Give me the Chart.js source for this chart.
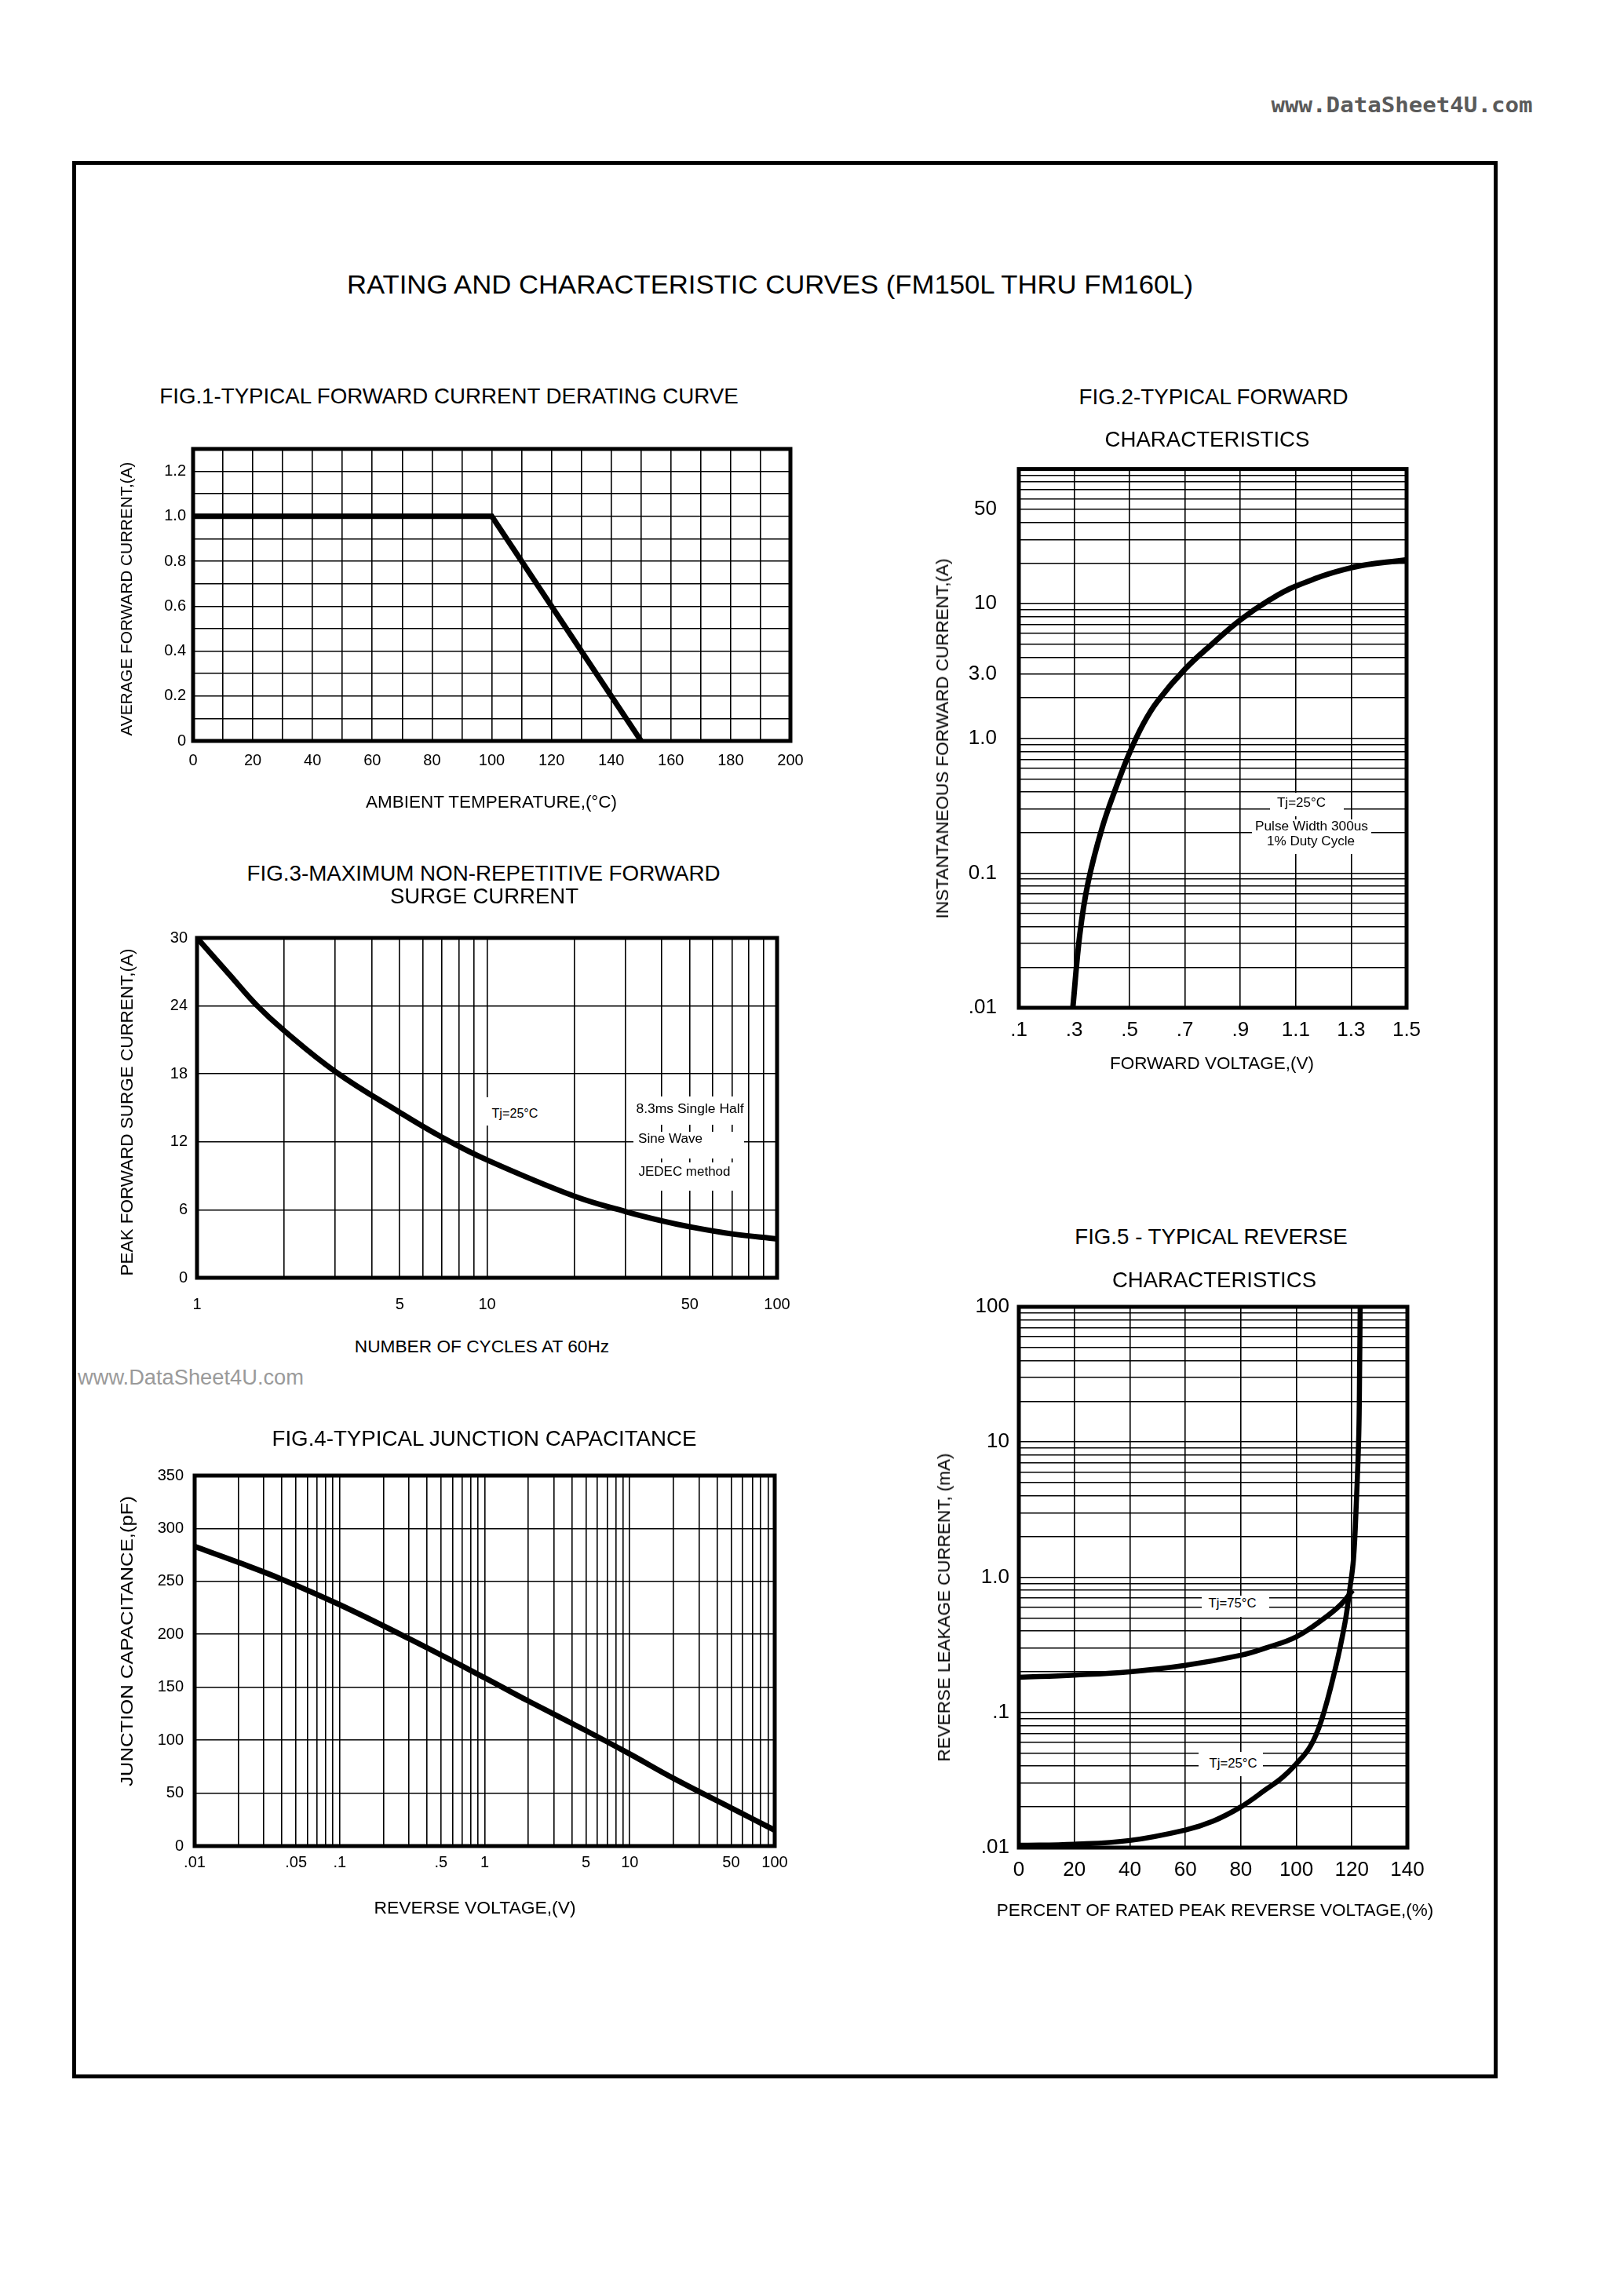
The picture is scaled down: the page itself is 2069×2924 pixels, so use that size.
<!DOCTYPE html>
<html>
<head>
<meta charset="utf-8">
<script src="https://cdn.jsdelivr.net/npm/chart.js@4.4.1/dist/chart.umd.min.js"></script>
<style>
html,body{margin:0;padding:0;background:#fff;}
#page{position:relative;width:2069px;height:2924px;background:#fff;overflow:hidden;font-family:'Liberation Sans',Arial,sans-serif;color:#000;}
.t{position:absolute;white-space:nowrap;line-height:1;transform-origin:center center;z-index:6;}
.box{position:absolute;background:#fff;z-index:5;}
canvas{position:absolute;z-index:1;}
#frameBox{position:absolute;left:92px;top:205px;width:1816px;height:2443px;border:5px solid #000;box-sizing:border-box;}
</style>
</head>
<body>
<div id="page"><div id="frameBox"></div></div>
<script>
// ---------------- DATA ----------------
// FIG.1 forward current derating
const fig1Temp = [0, 100, 150];
const fig1Current = [1.0, 1.0, 0];
const fig1XTicks = [[0,'0'],[20,'20'],[40,'40'],[60,'60'],[80,'80'],[100,'100'],[120,'120'],[140,'140'],[160,'160'],[180,'180'],[200,'200']];
const fig1YTicks = [[0,'0'],[0.2,'0.2'],[0.4,'0.4'],[0.6,'0.6'],[0.8,'0.8'],[1.0,'1.0'],[1.2,'1.2']];

// FIG.2 forward characteristics
const fig2Voltage = [0.295, 0.32, 0.35, 0.40, 0.45, 0.50, 0.55, 0.60, 0.70, 0.80, 0.90, 1.00, 1.10, 1.30, 1.50];
const fig2Current = [0.01, 0.0349, 0.0851, 0.214, 0.427, 0.785, 1.29, 1.88, 3.27, 5.07, 7.59, 10.5, 13.5, 18.5, 21.2];
const fig2XTicks = [[0.1,'.1'],[0.3,'.3'],[0.5,'.5'],[0.7,'.7'],[0.9,'.9'],[1.1,'1.1'],[1.3,'1.3'],[1.5,'1.5']];
const fig2YTicks = [[0.01,'.01'],[0.1,'0.1'],[1,'1.0'],[3,'3.0'],[10,'10'],[50,'50']];

// FIG.3 surge current
const fig3Cycles = [1, 1.3, 1.6, 2, 3, 5, 7, 10, 20, 30, 40, 50, 70, 100];
const fig3Current = [30, 26.7, 24.1, 21.8, 18.2, 14.6, 12.4, 10.4, 7.2, 5.85, 5.03, 4.5, 3.87, 3.43];
const fig3XTicks = [[1,'1'],[5,'5'],[10,'10'],[50,'50'],[100,'100']];
const fig3YTicks = [[0,'0'],[6,'6'],[12,'12'],[18,'18'],[24,'24'],[30,'30']];

// FIG.4 junction capacitance
const fig4Voltage = [0.01, 0.02, 0.04, 0.1, 0.3, 1, 2, 5, 10, 20, 50, 100];
const fig4Capacitance = [283, 268, 252, 228, 196, 159, 137, 109, 87, 64, 36, 15];
const fig4XTicks = [[0.01,'.01'],[0.05,'.05'],[0.1,'.1'],[0.5,'.5'],[1,'1'],[5,'5'],[10,'10'],[50,'50'],[100,'100']];
const fig4YTicks = [[0,'0'],[50,'50'],[100,'100'],[150,'150'],[200,'200'],[250,'250'],[300,'300'],[350,'350']];

// FIG.5 reverse characteristics
const fig5Percent75 = [0, 20, 40, 60, 80, 89, 100, 110, 116, 120.3];
const fig5Leak75 = [0.182, 0.189, 0.20, 0.223, 0.265, 0.30, 0.363, 0.496, 0.627, 0.80];
const fig5Percent25 = [0, 20, 40, 60, 70, 80, 89, 95, 100, 105, 109, 114, 117.5, 119.2, 120.6, 121.6, 122.5, 122.8, 123];
const fig5Leak25 = [0.0104, 0.0106, 0.0113, 0.0135, 0.0157, 0.02, 0.0269, 0.0331, 0.0417, 0.056, 0.087, 0.209, 0.458, 0.8, 1.37, 3.5, 11.4, 35, 100];
const fig5XTicks = [[0,'0'],[20,'20'],[40,'40'],[60,'60'],[80,'80'],[100,'100'],[120,'120'],[140,'140']];
const fig5YTicks = [[0.01,'.01'],[0.1,'.1'],[1,'1.0'],[10,'10'],[100,'100']];

// ---------------- HELPERS ----------------
const FONT = "'Liberation Sans', Arial, sans-serif";
const page = document.getElementById('page');
const mctx = document.createElement('canvas').getContext('2d');

function txt(s, cx, cy, w, size, o = {}) {
  const el = document.createElement('div');
  el.className = 't';
  el.textContent = s;
  const fam = o.family || FONT;
  const f = (o.bold ? 'bold ' : '') + size + 'px ' + fam;
  el.style.font = f;
  mctx.font = f;
  const mw = mctx.measureText(s).width;
  const sx = w ? w / mw : 1;
  el.style.left = cx + 'px';
  el.style.top = cy + 'px';
  el.style.color = o.color || '#000';
  el.style.transform = 'translate(-50%,-50%) ' + (o.rot ? 'rotate(-90deg) ' : '') + 'scaleX(' + sx.toFixed(4) + ')';
  page.appendChild(el);
}
function box(l, t, w, h) {
  const el = document.createElement('div');
  el.className = 'box';
  Object.assign(el.style, {left: l + 'px', top: t + 'px', width: w + 'px', height: h + 'px'});
  page.appendChild(el);
}
function linGrid(min, max, step) {
  const n = Math.round((max - min) / step), out = [];
  for (let i = 0; i <= n; i++) out.push(Math.round((min + i * step) * 1e9) / 1e9);
  return out;
}
function logGrid(e0, e1) {
  const out = [];
  for (let e = e0; e < e1; e++) for (let m = 1; m <= 9; m++) out.push(Number((m * Math.pow(10, e)).toPrecision(6)));
  out.push(Number(Math.pow(10, e1).toPrecision(6)));
  return out;
}
function labeler(pairs) {
  return v => {
    for (const [val, t] of pairs) if (Math.abs(v - val) <= 1e-7 * Math.max(1e-3, Math.abs(val))) return t;
    return '';
  };
}
const framePlugin = {
  id: 'frame',
  beforeDatasetsDraw(chart, args, opts) {
    const {ctx, chartArea: a} = chart;
    ctx.save();
    ctx.strokeStyle = '#000';
    ctx.lineWidth = opts.width || 5;
    ctx.strokeRect(a.left, a.top, a.right - a.left, a.bottom - a.top);
    ctx.restore();
  }
};

function plot(area, o) {
  const L = 100, R = 50, T = 40, B = 70;
  const W = area.r - area.l + L + R, H = area.b - area.t + T + B;
  const cv = document.createElement('canvas');
  cv.width = W; cv.height = H;
  Object.assign(cv.style, {left: (area.l - L) + 'px', top: (area.t - T) + 'px', width: W + 'px', height: H + 'px'});
  page.appendChild(cv);
  const axis = (a, isX) => ({
    type: a.type, min: a.min, max: a.max, position: isX ? 'bottom' : 'left',
    afterFit: s => { if (isX) s.height = B; else s.width = L; },
    afterBuildTicks: s => { s.ticks = a.grid.map(v => ({value: v})); },
    ticks: {autoSkip: false, maxRotation: 0, minRotation: 0, padding: a.pad,
            font: {size: a.size, family: FONT}, color: '#000', callback: labeler(a.labels)},
    grid: {color: '#000', lineWidth: 1.6, drawTicks: false},
    border: {display: false}
  });
  new Chart(cv, {
    type: 'line',
    data: {datasets: o.datasets.map(d => ({
      data: d.x.map((x, i) => ({x: x, y: d.y[i]})),
      borderColor: '#000', borderWidth: d.w || 7, pointRadius: 0, fill: false,
      tension: d.straight ? 0 : 0.4, cubicInterpolationMode: 'default',
      borderCapStyle: 'butt', borderJoinStyle: d.straight ? 'miter' : 'round'
    }))},
    options: {
      responsive: false, animation: false, devicePixelRatio: 1,
      layout: {padding: {left: 0, right: R, top: T, bottom: 0}},
      plugins: {legend: {display: false}, tooltip: {enabled: false}, frame: {width: o.frame || 5}},
      scales: {x: axis(o.x, true), y: axis(o.y, false)}
    },
    plugins: [framePlugin]
  });
}

// ---------------- PAGE TEXT ----------------
txt('www.DataSheet4U.com', 1786, 133, 333, 27, {bold: true, family: "'DejaVu Sans Mono', monospace", color: '#5a5a5a'});
txt('RATING AND CHARACTERISTIC CURVES (FM150L THRU FM160L)', 981, 362, 1082, 34);
txt('www.DataSheet4U.com', 243, 1755, 288, 27, {color: '#9a9a9a'});

// ---------------- FIG.1 ----------------
txt('FIG.1-TYPICAL FORWARD CURRENT DERATING CURVE', 572, 505, 739, 27.5);
txt('AVERAGE FORWARD CURRENT,(A)', 161, 763, 349, 21, {rot: true});
txt('AMBIENT TEMPERATURE,(\u00B0C)', 626, 1022, 321, 22);
plot({l: 246, r: 1007, t: 572, b: 944}, {
  x: {type: 'linear', min: 0, max: 200, grid: linGrid(0, 200, 10), labels: fig1XTicks, pad: 13, size: 20},
  y: {type: 'linear', min: 0, max: 1.3, grid: linGrid(0, 1.3, 0.1), labels: fig1YTicks, pad: 9, size: 20},
  datasets: [{x: fig1Temp, y: fig1Current, straight: true, w: 7}]
});

// ---------------- FIG.2 ----------------
txt('FIG.2-TYPICAL FORWARD', 1546, 506, 344, 27.5);
txt('CHARACTERISTICS', 1538, 560, 261, 27.5);
txt('INSTANTANEOUS FORWARD CURRENT,(A)', 1201, 941, 459, 22, {rot: true});
txt('FORWARD VOLTAGE,(V)', 1544, 1355, 260, 22);
plot({l: 1298, r: 1792, t: 594, b: 1284}, {
  x: {type: 'linear', min: 0.1, max: 1.5, grid: linGrid(0.1, 1.5, 0.2), labels: fig2XTicks, pad: 13, size: 26},
  y: {type: 'logarithmic', min: 0.01, max: 100, grid: logGrid(-2, 2), labels: fig2YTicks, pad: 28, size: 26},
  datasets: [{x: fig2Voltage, y: fig2Current, w: 7}]
});
box(1618, 1010, 94, 30);
box(1595, 1044, 152, 44);
txt('Tj=25\u00B0C', 1658, 1023, 62, 16);
txt('Pulse Width 300us', 1671, 1053, 144, 16);
txt('1% Duty Cycle', 1670, 1072, 112, 16);

// ---------------- FIG.3 ----------------
txt('FIG.3-MAXIMUM NON-REPETITIVE FORWARD', 616, 1113, 603, 27.5);
txt('SURGE CURRENT', 617, 1142, 240, 27.5);
txt('PEAK FORWARD SURGE CURRENT,(A)', 162, 1417, 417, 22, {rot: true});
txt('NUMBER OF CYCLES AT 60Hz', 614, 1716, 326, 22);
plot({l: 251, r: 990, t: 1195, b: 1628}, {
  x: {type: 'logarithmic', min: 1, max: 100, grid: logGrid(0, 2), labels: fig3XTicks, pad: 22, size: 20},
  y: {type: 'linear', min: 0, max: 30, grid: linGrid(0, 30, 6), labels: fig3YTicks, pad: 12, size: 20},
  datasets: [{x: fig3Cycles, y: fig3Current, w: 7}]
});
box(612, 1398, 86, 36);
txt('Tj=25\u00B0C', 656, 1419, 59, 16);
box(807, 1397, 141, 36);
box(807, 1442, 141, 34);
box(807, 1481, 141, 36);
txt('8.3ms Single Half', 878.5, 1413, 137, 16);
txt('Sine Wave', 854, 1451, 82, 16);
txt('JEDEC method', 871.5, 1493, 117, 16);

// ---------------- FIG.4 ----------------
txt('FIG.4-TYPICAL JUNCTION CAPACITANCE', 617, 1833, 542, 27.5);
txt('JUNCTION CAPACITANCE,(pF)', 162, 2091, 370, 22, {rot: true});
txt('REVERSE VOLTAGE,(V)', 605, 2431, 257, 22);
plot({l: 248, r: 987, t: 1880, b: 2352}, {
  x: {type: 'logarithmic', min: 0.01, max: 100, grid: logGrid(-2, 2), labels: fig4XTicks, pad: 9, size: 20},
  y: {type: 'linear', min: 0, max: 350, grid: linGrid(0, 350, 50), labels: fig4YTicks, pad: 14, size: 20},
  datasets: [{x: fig4Voltage, y: fig4Capacitance, w: 7}]
});

// ---------------- FIG.5 ----------------
txt('FIG.5 - TYPICAL REVERSE', 1543, 1576, 349, 27.5);
txt('CHARACTERISTICS', 1547, 1631, 260, 27.5);
txt('REVERSE LEAKAGE CURRENT, (mA)', 1203, 2048, 393, 22, {rot: true});
txt('PERCENT OF RATED PEAK REVERSE VOLTAGE,(%)', 1548, 2434, 557, 22);
plot({l: 1298, r: 1793, t: 1665, b: 2354}, {
  x: {type: 'linear', min: 0, max: 140, grid: linGrid(0, 140, 20), labels: fig5XTicks, pad: 13, size: 26},
  y: {type: 'logarithmic', min: 0.01, max: 100, grid: logGrid(-2, 2), labels: fig5YTicks, pad: 12, size: 26},
  datasets: [{x: fig5Percent75, y: fig5Leak75, w: 6.5}, {x: fig5Percent25, y: fig5Leak25, w: 6.5}]
});
box(1531, 2033, 86, 27);
txt('Tj=75\u00B0C', 1569.5, 2043, 61, 16);
box(1527, 2232, 82, 31);
txt('Tj=25\u00B0C', 1570.5, 2247, 61, 16);
</script>
</body>
</html>
